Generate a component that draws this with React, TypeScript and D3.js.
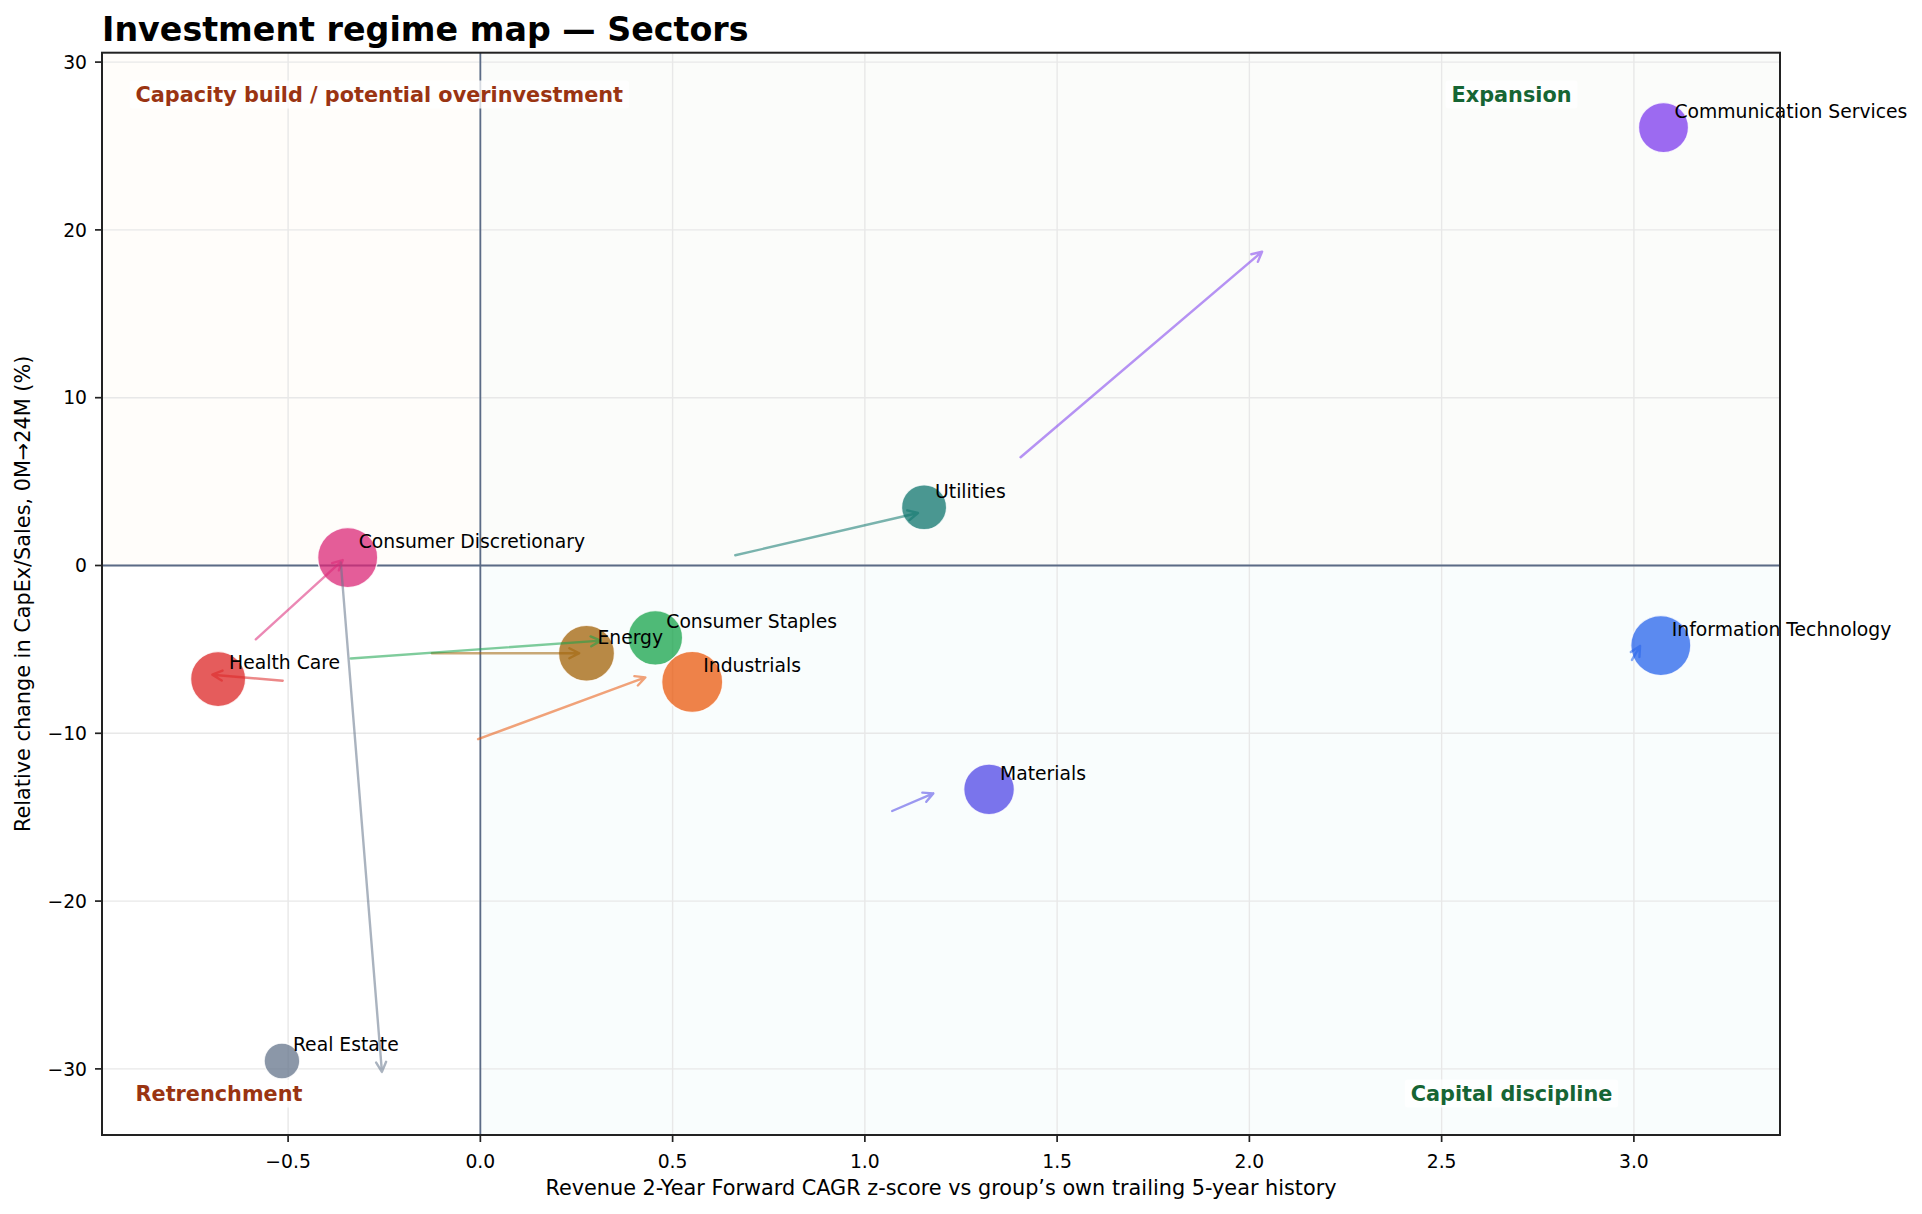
import React, { useEffect, useRef } from "react";
import * as d3 from "d3";

// Sector positions: revenue growth z-score (x) vs relative CapEx/Sales change (y)
const sectors = [
  "Communication Services",
  "Information Technology",
  "Utilities",
  "Materials",
  "Real Estate",
  "Consumer Discretionary",
  "Health Care",
  "Energy",
  "Consumer Staples",
  "Industrials",
];
const growthZ = [3.077, 3.07, 1.154, 1.323, -0.516, -0.345, -0.682, 0.276, 0.455, 0.551];
const capexChange = [26.1, -4.77, 3.47, -13.34, -29.53, 0.47, -6.77, -5.23, -4.31, -6.94];
const bubbleSize = [625, 900, 506, 640, 317, 900, 756, 784, 745, 930];

// Trajectory arrows (start -> end) per sector
const arrowFromX = [1.405, 2.995, 0.663, 1.071, -0.363, -0.584, -0.514, -0.126, -0.337, -0.006];
const arrowFromY = [6.45, -5.63, 0.61, -14.63, 0.18, -4.4, -6.87, -5.23, -5.54, -10.35];
const arrowToX = [2.033, 3.016, 1.138, 1.178, -0.256, -0.358, -0.697, 0.257, 0.313, 0.429];
const arrowToY = [18.7, -4.8, 3.13, -13.58, -30.18, 0.32, -6.51, -5.23, -4.48, -6.67];

const sectorColors = [
  "#7c3aed",
  "#2563eb",
  "#0f766e",
  "#4f46e5",
  "#64748b",
  "#db2777",
  "#dc2626",
  "#a16207",
  "#16a34a",
  "#ea580c",
];

const xTicks = [-0.5, 0, 0.5, 1, 1.5, 2, 2.5, 3];
const yTicks = [-30, -20, -10, 0, 10, 20, 30];
const xDomain = [-0.984, 3.38];
const yDomain = [-33.94, 30.56];

const TITLE = "Investment regime map — Sectors";
const X_LABEL = "Revenue 2-Year Forward CAGR z-score vs group’s own trailing 5-year history";
const Y_LABEL = "Relative change in CapEx/Sales, 0M→24M (%)";

const W = 1922;
const H = 1214;
const FONT = "DejaVu Sans, Verdana, sans-serif";

export default function App() {
  const ref = useRef<SVGSVGElement | null>(null);

  useEffect(() => {
    const svg = d3.select(ref.current);
    svg.selectAll("*").remove();

    const left = 102;
    const right = 1780;
    const top = 52.7;
    const bottom = 1135;

    const x = d3.scaleLinear().domain(xDomain).range([left, right]);
    const y = d3.scaleLinear().domain(yDomain).range([bottom, top]);
    const r = d3.scaleSqrt().domain([0, 930]).range([0, 30.5]);

    svg.append("rect").attr("width", W).attr("height", H).attr("fill", "#ffffff");

    // Quadrant tints
    const x0 = x(0);
    const y0 = y(0);
    const quads = [
      { x1: left, x2: x0, y1: top, y2: y0, fill: "#fffdfa" },
      { x1: x0, x2: right, y1: top, y2: y0, fill: "#fbfcfa" },
      { x1: x0, x2: right, y1: y0, y2: bottom, fill: "#f9fdfd" },
      { x1: left, x2: x0, y1: y0, y2: bottom, fill: "#ffffff" },
    ];
    svg
      .append("g")
      .selectAll("rect")
      .data(quads)
      .join("rect")
      .attr("x", (d) => d.x1)
      .attr("y", (d) => d.y1)
      .attr("width", (d) => d.x2 - d.x1)
      .attr("height", (d) => d.y2 - d.y1)
      .attr("fill", (d) => d.fill);

    // Grid
    const grid = svg.append("g").attr("stroke", "#e8e8e8").attr("stroke-width", 1.4);
    xTicks.forEach((t) => {
      grid.append("line").attr("x1", x(t)).attr("x2", x(t)).attr("y1", top).attr("y2", bottom);
    });
    yTicks.forEach((t) => {
      grid.append("line").attr("x1", left).attr("x2", right).attr("y1", y(t)).attr("y2", y(t));
    });

    // Zero lines
    svg
      .append("line")
      .attr("x1", left)
      .attr("x2", right)
      .attr("y1", y0)
      .attr("y2", y0)
      .attr("stroke", "#5b6b86")
      .attr("stroke-width", 1.8);
    svg
      .append("line")
      .attr("x1", x0)
      .attr("x2", x0)
      .attr("y1", top)
      .attr("y2", bottom)
      .attr("stroke", "#5b6b86")
      .attr("stroke-width", 1.8);

    // Quadrant labels
    const w = right - left;
    const qLabels = [
      { text: "Capacity build / potential overinvestment", x: left + 0.02 * w, y: 101.5, anchor: "start", color: "#9a3412" },
      { text: "Expansion", x: left + 0.84 * w, y: 101.5, anchor: "middle", color: "#166534" },
      { text: "Retrenchment", x: left + 0.02 * w, y: 1100.5, anchor: "start", color: "#9a3412" },
      { text: "Capital discipline", x: left + 0.84 * w, y: 1100.5, anchor: "middle", color: "#166534" },
    ];
    qLabels.forEach((q) => {
      const g = svg.append("g");
      const box = g.append("rect");
      const t = g
        .append("text")
        .attr("x", q.x)
        .attr("y", q.y)
        .attr("text-anchor", q.anchor)
        .attr("font-family", FONT)
        .attr("font-weight", "bold")
        .attr("font-size", 20.8)
        .attr("fill", q.color)
        .text(q.text);
      const bb = (t.node() as SVGTextElement).getBBox();
      box
        .attr("x", bb.x - 6)
        .attr("y", q.y - 21)
        .attr("width", bb.width + 12)
        .attr("height", 28)
        .attr("rx", 3)
        .attr("fill", "#ffffff")
        .attr("fill-opacity", 0.75);
    });

    // Bubbles
    svg
      .append("g")
      .selectAll("circle")
      .data(sectors.map((s, i) => i))
      .join("circle")
      .attr("cx", (i) => x(growthZ[i]))
      .attr("cy", (i) => y(capexChange[i]))
      .attr("r", (i) => r(bubbleSize[i]))
      .attr("fill", (i) => sectorColors[i])
      .attr("fill-opacity", 0.75)
      .attr("stroke", "#ffffff")
      .attr("stroke-opacity", 0.8)
      .attr("stroke-width", 1.3);

    // Trajectory arrows
    const arrows = svg.append("g");
    sectors.forEach((_, i) => {
      const sx = x(arrowFromX[i]);
      const sy = y(arrowFromY[i]);
      const ex = x(arrowToX[i]);
      const ey = y(arrowToY[i]);
      const ang = Math.atan2(ey - sy, ex - sx);
      const head = 11;
      const spread = (27 * Math.PI) / 180;
      const a1x = ex - head * Math.cos(ang - spread);
      const a1y = ey - head * Math.sin(ang - spread);
      const a2x = ex - head * Math.cos(ang + spread);
      const a2y = ey - head * Math.sin(ang + spread);
      arrows
        .append("path")
        .attr("d", `M${sx},${sy}L${ex},${ey}M${a1x},${a1y}L${ex},${ey}L${a2x},${a2y}`)
        .attr("fill", "none")
        .attr("stroke", sectorColors[i])
        .attr("stroke-opacity", 0.55)
        .attr("stroke-width", 2.4)
        .attr("stroke-linecap", "round")
        .attr("stroke-linejoin", "round");
    });

    // Sector annotations
    svg
      .append("g")
      .selectAll("text")
      .data(sectors.map((s, i) => i))
      .join("text")
      .attr("x", (i) => x(growthZ[i]) + 11)
      .attr("y", (i) => y(capexChange[i]) - 9.7)
      .attr("font-family", FONT)
      .attr("font-size", 18.75)
      .attr("fill", "#000000")
      .text((i) => sectors[i]);

    // Frame
    svg
      .append("rect")
      .attr("x", left)
      .attr("y", top)
      .attr("width", right - left)
      .attr("height", bottom - top)
      .attr("fill", "none")
      .attr("stroke", "#222222")
      .attr("stroke-width", 2);

    // Axes ticks and labels
    const fmtX = (v: number) => d3.format(".1f")(v).replace("-", "−");
    const fmtY = (v: number) => d3.format("d")(v).replace("-", "−");
    const ax = svg.append("g");
    xTicks.forEach((t) => {
      ax.append("line")
        .attr("x1", x(t))
        .attr("x2", x(t))
        .attr("y1", bottom)
        .attr("y2", bottom + 7)
        .attr("stroke", "#222222")
        .attr("stroke-width", 1.7);
      ax.append("text")
        .attr("x", x(t))
        .attr("y", bottom + 33)
        .attr("text-anchor", "middle")
        .attr("font-family", FONT)
        .attr("font-size", 18.75)
        .attr("fill", "#000000")
        .text(fmtX(t));
    });
    yTicks.forEach((t) => {
      ax.append("line")
        .attr("x1", left - 7)
        .attr("x2", left)
        .attr("y1", y(t))
        .attr("y2", y(t))
        .attr("stroke", "#222222")
        .attr("stroke-width", 1.7);
      ax.append("text")
        .attr("x", left - 15)
        .attr("y", y(t))
        .attr("dy", "0.36em")
        .attr("text-anchor", "end")
        .attr("font-family", FONT)
        .attr("font-size", 18.75)
        .attr("fill", "#000000")
        .text(fmtY(t));
    });

    svg
      .append("text")
      .attr("x", (left + right) / 2)
      .attr("y", 1195)
      .attr("text-anchor", "middle")
      .attr("font-family", FONT)
      .attr("font-size", 20.8)
      .attr("fill", "#000000")
      .text(X_LABEL);

    svg
      .append("text")
      .attr("transform", `translate(30,${(top + bottom) / 2}) rotate(-90)`)
      .attr("text-anchor", "middle")
      .attr("font-family", FONT)
      .attr("font-size", 20.8)
      .attr("fill", "#000000")
      .text(Y_LABEL);

    svg
      .append("text")
      .attr("x", left)
      .attr("y", 40.5)
      .attr("font-family", FONT)
      .attr("font-weight", "bold")
      .attr("font-size", 33.3)
      .attr("fill", "#000000")
      .text(TITLE);
  }, []);

  return (
    <svg
      ref={ref}
      width={W}
      height={H}
      viewBox={`0 0 ${W} ${H}`}
      style={{ position: "absolute", left: 0, top: 0, display: "block" }}
    />
  );
}
